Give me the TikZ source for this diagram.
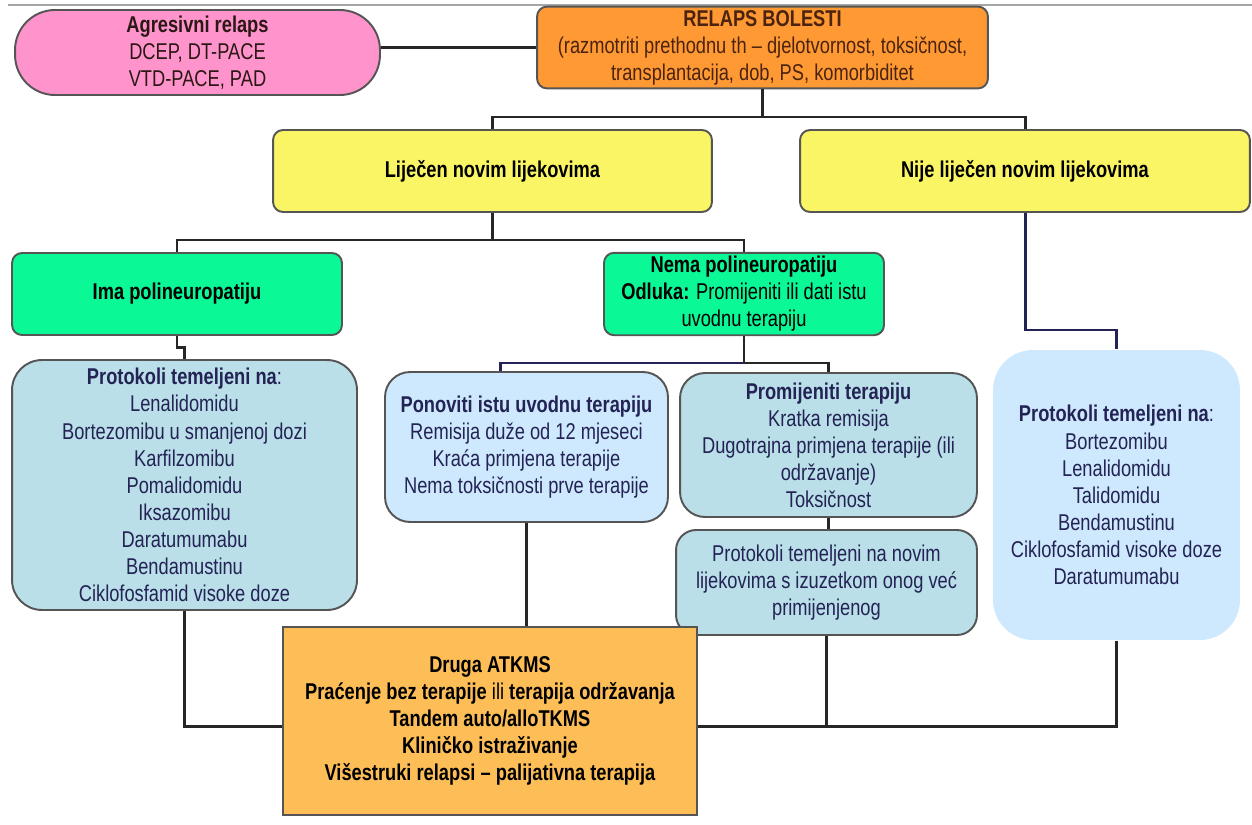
\documentclass[tikz,border=0pt]{standalone}
\usepackage{fontspec}
\setmainfont[FakeStretch=0.8]{Liberation Sans}
\usepackage{tikz}
\usetikzlibrary{positioning,calc}
\definecolor{relpink}{RGB}{255,148,204}
\definecolor{relorange}{RGB}{255,153,51}
\definecolor{relyellow}{RGB}{250,245,100}
\definecolor{relgreen}{RGB}{10,248,150}
\definecolor{relteal}{RGB}{186,223,232}
\definecolor{relblue}{RGB}{206,233,253}
\definecolor{relgold}{RGB}{253,190,88}
\definecolor{relgrey}{RGB}{85,85,85}
\definecolor{relnavy}{RGB}{35,35,85}
\definecolor{relbrown}{RGB}{75,35,15}
\tikzset{
  box/.style={draw=relgrey, line width=1.1pt, align=center, inner sep=2pt,
    font=\fontsize{13}{15.4}\selectfont},
  link/.style={line width=1.7pt, draw=black!85},
  navylink/.style={line width=1.7pt, draw=relnavy},
}

\begin{document}
\begin{tikzpicture}[x=0.02cm, y=-0.02cm]
\useasboundingbox (0,0) rectangle (1252,825);
\draw[gray!70, line width=1pt] (8,5) -- (1252,5);

% top row
\node[box, fill=relpink, rounded corners=0.8cm, minimum width=7.3cm, minimum height=1.7cm,
  text=relbrown!80!relpink!40!black] (agresivni) at (197.5,52.5)
  {\textbf{Agresivni relaps}\\DCEP, DT-PACE\\VTD-PACE, PAD};
\node[box, fill=relorange, rounded corners=0.2cm, minimum width=9.02cm, minimum height=1.62cm,
  text=relbrown] (relaps) at (762.5,47.5)
  {\textbf{RELAPS BOLESTI}\\(razmotriti prethodnu th -- djelotvornost, toksičnost,\\transplantacija, dob, PS, komorbiditet};

% treated or not
\node[box, fill=relyellow, rounded corners=0.2cm, minimum width=8.78cm, minimum height=1.64cm] (lijecen) at (492.5,171)
  {\textbf{Liječen novim lijekovima}};
\node[box, fill=relyellow, rounded corners=0.2cm, minimum width=9cm, minimum height=1.64cm] (nije) at (1025,171)
  {\textbf{Nije liječen novim lijekovima}};

% polyneuropathy
\node[box, fill=relgreen, rounded corners=0.2cm, minimum width=6.6cm, minimum height=1.64cm] (ima) at (177,294)
  {\textbf{Ima polineuropatiju}};
\node[box, fill=relgreen, rounded corners=0.2cm, minimum width=5.6cm, minimum height=1.64cm] (nema) at (744,294)
  {\textbf{Nema polineuropatiju}\\\textbf{Odluka:} Promijeniti ili dati istu\\uvodnu terapiju};

% protocols
\node[box, fill=relteal, rounded corners=0.6cm, minimum width=6.9cm, minimum height=5cm, text=relnavy] (protoL) at (184.5,485)
  {\textbf{Protokoli temeljeni na}:\\Lenalidomidu\\Bortezomibu u smanjenoj dozi\\Karfilzomibu\\Pomalidomidu\\Iksazomibu\\Daratumumabu\\Bendamustinu\\Ciklofosfamid visoke doze};
\node[box, fill=relblue, rounded corners=0.5cm, minimum width=5.66cm, minimum height=3cm, text=relnavy] (ponoviti) at (526.5,447)
  {\textbf{Ponoviti istu uvodnu terapiju}\\Remisija duže od 12 mjeseci\\Kraća primjena terapije\\Nema toksičnosti prve terapije};
\node[box, fill=relteal, rounded corners=0.5cm, minimum width=5.94cm, minimum height=2.88cm, text=relnavy] (promijeniti) at (828.5,445)
  {\textbf{Promijeniti terapiju}\\Kratka remisija\\Dugotrajna primjena terapije (ili\\održavanje)\\Toksičnost};
\node[box, fill=relteal, rounded corners=0.4cm, minimum width=6.02cm, minimum height=2.1cm, text=relnavy] (novim) at (826.5,582.5)
  {Protokoli temeljeni na novim\\lijekovima s izuzetkom onog već\\primijenjenog};
\node[box, draw=none, fill=relblue, rounded corners=0.8cm, minimum width=4.94cm, minimum height=5.8cm, text=relnavy] (protoR) at (1116.5,495)
  {\textbf{Protokoli temeljeni na}:\\Bortezomibu\\Lenalidomidu\\Talidomidu\\Bendamustinu\\Ciklofosfamid visoke doze\\Daratumumabu};

% final step
\node[box, fill=relgold, minimum width=8.28cm, minimum height=3.76cm] (druga) at (490,721)
  {\textbf{Druga ATKMS}\\\textbf{Praćenje bez terapije} ili \textbf{terapija održavanja}\\\textbf{Tandem auto/alloTKMS}\\\textbf{Kliničko istraživanje}\\\textbf{Višestruki relapsi -- palijativna terapija}};

% connectors
\coordinate (bus1) at (0,117);
\coordinate (bus2) at (0,240);
\coordinate (bus3) at (0,363);
\coordinate (bus4) at (0,330);
\coordinate (bus5) at (0,726);

\draw[link] (agresivni.east |- relaps.west) -- (relaps.west);
\draw[link] (relaps.south) -- (relaps.south |- bus1);
\draw[link] (lijecen.north) |- (bus1 -| nije.north) -- (nije.north);
\draw[link] (lijecen.south) -- (lijecen.south |- bus2);
\draw[link] (ima.north) |- (bus2 -| nema.north) -- (nema.north);
\draw[link] (ima.south) -- ++(0,12) -| (protoL.north);
\draw[link] (nema.south) -- (nema.south |- bus3);
\draw[navylink] ([xshift=-0.52cm]ponoviti.north) |- (nema.south |- bus3);
\draw[link] (nema.south |- bus3) -| (promijeniti.north);
\draw[link] (promijeniti.south) -- (promijeniti.south |- novim.north);
\draw[navylink] (nije.south) |- (bus4 -| protoR.north) -- (protoR.north);
\draw[link] (protoL.south) |- (bus5 -| druga.west);
\draw[link] (ponoviti.south) -- (ponoviti.south |- druga.north);
\draw[link] (druga.east |- bus5) -| (protoR.south);
\draw[link] (novim.south) -- (novim.south |- bus5);
\end{tikzpicture}
\end{document}
